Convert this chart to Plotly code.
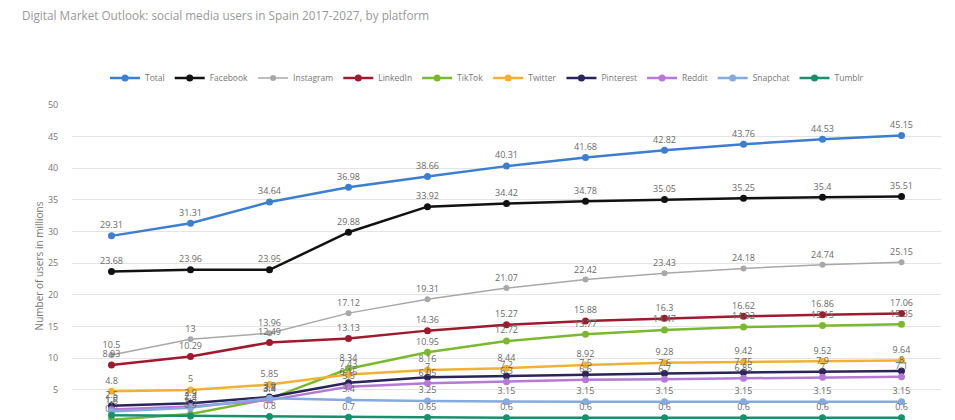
import plotly.graph_objects as go

years = [2017, 2018, 2019, 2020, 2021, 2022, 2023, 2024, 2025, 2026, 2027]

total = [29.31, 31.31, 34.64, 36.98, 38.66, 40.31, 41.68, 42.82, 43.76, 44.53, 45.15]
facebook = [23.68, 23.96, 23.95, 29.88, 33.92, 34.42, 34.78, 35.05, 35.25, 35.4, 35.51]
instagram = [10.5, 13, 13.96, 17.12, 19.31, 21.07, 22.42, 23.43, 24.18, 24.74, 25.15]
linkedin = [8.93, 10.29, 12.49, 13.13, 14.36, 15.27, 15.88, 16.3, 16.62, 16.86, 17.06]
tiktok = [0.3, 1.2, 3.6, 8.34, 10.95, 12.72, 13.77, 14.47, 14.92, 15.15, 15.35]
twitter = [4.8, 5.0, 5.85, 7.43, 8.16, 8.44, 8.92, 9.28, 9.42, 9.52, 9.64]
pinterest = [2.5, 2.9, 3.9, 6.15, 7.0, 7.2, 7.5, 7.6, 7.75, 7.9, 8.0]
reddit = [1.9, 2.4, 3.4, 5.5, 6.05, 6.3, 6.6, 6.7, 6.85, 7.0, 7.1]
snapchat = [1.6, 2.2, 3.7, 3.4, 3.25, 3.15, 3.15, 3.15, 3.15, 3.15, 3.15]
tumblr = [1.0, 0.9, 0.8, 0.7, 0.65, 0.6, 0.6, 0.6, 0.6, 0.6, 0.6]

series = [
    ("Total", total, "#3c7ed0", 2.5),
    ("Facebook", facebook, "#111111", 2.5),
    ("Instagram", instagram, "#a8a8a8", 1.5),
    ("LinkedIn", linkedin, "#9e1a2e", 2.5),
    ("TikTok", tiktok, "#7cb82f", 2.5),
    ("Twitter", twitter, "#f2b134", 2.5),
    ("Pinterest", pinterest, "#2b2459", 2.5),
    ("Reddit", reddit, "#b579d6", 2.5),
    ("Snapchat", snapchat, "#86a9de", 2.5),
    ("Tumblr", tumblr, "#18906b", 2.5),
]

fig = go.Figure()
for name, vals, color, w in series:
    fig.add_trace(go.Scatter(
        x=years, y=vals, name=name,
        mode="lines+markers+text",
        line=dict(color=color, width=w),
        marker=dict(color=color, size=7 if w > 2 else 6, symbol="circle"),
        text=[f"{v:g}" for v in vals],
        textposition="top center",
        textfont=dict(family="Open Sans, sans-serif", size=9, color="#6a6a6a"),
        cliponaxis=False,
    ))

# page has an 8px body margin; figure coordinates are offset accordingly
L, T, PW, PH = 64, 96, 869, 324

fig.update_layout(
    width=955, height=420,
    margin=dict(l=L, r=955 - L - PW, t=T, b=0),
    paper_bgcolor="white", plot_bgcolor="white",
    font=dict(family="Open Sans, sans-serif", color="#666666"),
    annotations=[dict(
        text="Digital Market Outlook: social media users in Spain 2017-2027, by platform",
        xref="paper", yref="paper", x=(12 - L) / PW, y=(420 - 7) / PH,
        xanchor="left", yanchor="middle", showarrow=False,
        font=dict(size=11.75, color="#999999"),
    )],
    legend=dict(
        orientation="h", x=(479 - L) / PW, xanchor="center", y=(420 - 70) / PH, yanchor="middle",
        font=dict(size=8.5, color="#777777"), itemwidth=30,
        bgcolor="rgba(0,0,0,0)",
    ),
    showlegend=True,
)
fig.update_xaxes(
    range=[2016.5, 2027.5], showgrid=False, showticklabels=False,
    zeroline=False, showline=False, automargin=False,
)
fig.update_yaxes(
    range=[-1.0, 50.11], tickvals=[5, 10, 15, 20, 25, 30, 35, 40, 45, 50],
    showgrid=True, gridcolor="#e4e4e4", gridwidth=1,
    zeroline=False, showline=False,
    ticks="outside", ticklen=11, tickcolor="rgba(0,0,0,0)",
    tickfont=dict(size=9, color="#777777"),
    title=dict(text="Number of users in millions", font=dict(size=10, color="#777777"), standoff=2),
    automargin=False,
)

fig.write_html("out.html")
